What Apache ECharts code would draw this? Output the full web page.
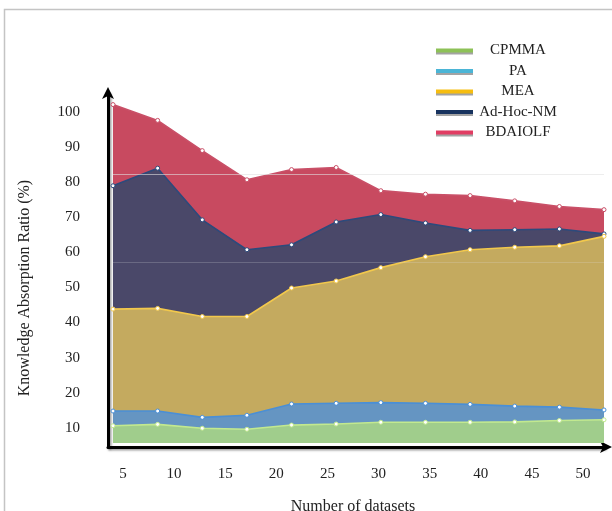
<!DOCTYPE html>
<html><head><meta charset="utf-8">
<script src="https://cdn.jsdelivr.net/npm/echarts@6/dist/echarts.min.js"></script>
<style>html,body{margin:0;padding:0;background:#fff}#c{width:612px;height:511px}</style>
</head><body><div id="c"></div>
<script>
// x tick labels (number of datasets)
const xTickLabels = ['5','10','15','20','25','30','35','40','45','50'];
// the 12 sampled points along the x axis
const samplePoints = ['p1','p2','p3','p4','p5','p6','p7','p8','p9','p10','p11','p12'];
// y tick labels
const yTickLabels = [10,20,30,40,50,60,70,80,90,100];
// light gridlines visible in the picture
const gridLevels = [82.3, 57.0];

const seriesNames = ['CPMMA','PA','MEA','Ad-Hoc-NM','BDAIOLF'];
const cpmma   = [10.6, 11.0,  9.9,  9.6, 10.8, 11.1, 11.6, 11.6, 11.6, 11.7, 12.1, 12.3];
const pa      = [14.8, 14.8, 13.0, 13.6, 16.8, 17.0, 17.2, 17.0, 16.7, 16.2, 15.9, 15.1];
const mea     = [43.8, 44.0, 41.7, 41.7, 49.8, 51.8, 55.6, 58.7, 60.7, 61.4, 61.8, 64.5];
const adHocNm = [78.9, 83.9, 69.2, 60.7, 62.1, 68.6, 70.7, 68.3, 66.2, 66.4, 66.6, 65.2];
const bdaiolf = [102.0, 97.5, 88.9, 80.6, 83.5, 84.1, 77.5, 76.5, 76.1, 74.6, 73.0, 72.1];

const FONT = "'Liberation Serif','Times New Roman',serif";

const styles = {
  'CPMMA':     {area:'#a0cd8c', line:'#c2e98f', legend:'#8dc157'},
  'PA':        {area:'#6595c2', line:'#4a8fd6', legend:'#4bb5d6'},
  'MEA':       {area:'#c4aa5f', line:'#f2c84c', legend:'#f6bd10'},
  'Ad-Hoc-NM': {area:'#4a4869', line:'#2c4a7c', legend:'#17325e'},
  'BDAIOLF':   {area:'#c84a60', line:'#c95068', legend:'#e13d63'}
};
const dataByName = {'CPMMA':cpmma,'PA':pa,'MEA':mea,'Ad-Hoc-NM':adHocNm,'BDAIOLF':bdaiolf};

// draw back-to-front: BDAIOLF first, CPMMA last
const drawOrder = ['BDAIOLF','Ad-Hoc-NM','MEA','PA','CPMMA'];
const series = drawOrder.map(function(name){
  const s = styles[name];
  const o = {
    name: name,
    type: 'line',
    xAxisIndex: 0, yAxisIndex: 0,
    data: dataByName[name],
    symbol: 'circle',
    symbolSize: 4,
    showSymbol: true,
    lineStyle: {color: s.line, width: 1.6},
    itemStyle: {color: '#ffffff', borderColor: s.line, borderWidth: 1},
    areaStyle: {color: s.area, opacity: 1, origin: 'start'},
    emphasis: {disabled: true},
    animation: false
  };
  if (name === 'CPMMA') {
    o.markLine = {
      silent: true, symbol: 'none', label: {show: false},
      data: [
        {yAxis: gridLevels[0], lineStyle: {color: 'rgba(225,225,225,0.6)', width: 1, type: 'solid'}},
        {yAxis: gridLevels[1], lineStyle: {color: 'rgba(225,225,225,0.22)', width: 1, type: 'solid'}}
      ]
    };
  }
  return o;
});

const axisLineStyle = {color: '#000', width: 3, shadowColor: 'rgba(120,120,120,0.7)', shadowOffsetX: 1.5, shadowOffsetY: 1.5, shadowBlur: 2};

const chart = echarts.init(document.getElementById('c'), null, {renderer: 'canvas'});
chart.setOption({
  backgroundColor: '#ffffff',
  animation: false,
  textStyle: {fontFamily: FONT},
  grid: [
    {left: 113, right: 8, top: 87, bottom: 68, containLabel: false, outerBoundsMode: 'none'},
    {left: 123, right: 29, top: 87, bottom: 68, containLabel: false, outerBoundsMode: 'none'},
    {left: 108, right: 8, top: 93, bottom: 64, containLabel: false, outerBoundsMode: 'none'}
  ],
  legend: {
    orient: 'vertical',
    left: 431, top: 38,
    itemWidth: 37, itemHeight: 4,
    itemGap: 5.5,
    icon: 'rect',
    selectedMode: false,
    data: seriesNames.map(function(n){
      return {name: n, icon: 'rect',
        itemStyle: {color: styles[n].legend, borderWidth: 0,
          shadowColor: 'rgba(140,140,140,0.8)', shadowOffsetY: 2, shadowBlur: 0}};
    }),
    formatter: function(n){ return '{t|' + n + '}'; },
    textStyle: {
      fontFamily: FONT, fontSize: 15, color: '#222',
      rich: {t: {width: 80, align: 'center', fontFamily: FONT, fontSize: 15, color: '#222', lineHeight: 16}}
    }
  },
  xAxis: [
    {
      type: 'category', gridIndex: 0, data: samplePoints, boundaryGap: false,
      axisLine: {show: false, onZero: false}, axisTick: {show: false}, axisLabel: {show: false}, splitLine: {show: false}
    },
    {
      type: 'category', gridIndex: 1, data: xTickLabels, boundaryGap: false, position: 'bottom',
      axisLine: {show: false, onZero: false}, axisTick: {show: false}, splitLine: {show: false},
      axisLabel: {show: true, margin: 24, fontFamily: FONT, fontSize: 15, color: '#222', interval: 0},
      name: 'Number of datasets', nameLocation: 'middle', nameGap: 56,
      nameTextStyle: {fontFamily: FONT, fontSize: 16, color: '#222'}
    },
    {
      type: 'value', gridIndex: 2, min: 0, max: 1, position: 'bottom',
      axisLine: {show: true, onZero: false, symbol: ['none','arrow'], symbolSize: [9, 12], symbolOffset: [0, 8], lineStyle: axisLineStyle},
      axisTick: {show: false}, axisLabel: {show: false}, splitLine: {show: false}
    }
  ],
  yAxis: [
    {
      type: 'value', gridIndex: 0, min: 5.7, max: 107,
      axisLine: {show: false, onZero: false},
      axisTick: {show: false},
      splitLine: {show: false},
      axisLabel: {show: true, customValues: yTickLabels, margin: 33, fontFamily: FONT, fontSize: 15, color: '#222'}
    },
    {
      type: 'value', gridIndex: 1, show: false, min: 0, max: 1
    },
    {
      type: 'value', gridIndex: 2, min: 0, max: 1, position: 'left',
      axisLine: {show: true, onZero: false, symbol: ['none','arrow'], symbolSize: [9, 12], symbolOffset: [0, 6], lineStyle: axisLineStyle},
      axisTick: {show: false}, axisLabel: {show: false}, splitLine: {show: false}
    }
  ],
  graphic: [
    {type: 'rect', shape: {x: 4.5, y: 9.5, width: 800, height: 800}, style: {fill: 'none', stroke: '#c4c4c4', lineWidth: 1.5}, silent: true, z: -10},
    {type: 'text', x: 25, y: 288, rotation: Math.PI / 2, silent: true,
      style: {text: 'Knowledge Absorption Ratio (%)', font: '16px ' + FONT, fill: '#222', align: 'center', verticalAlign: 'middle'}}
  ],
  series: series
});
</script>
</body></html>
